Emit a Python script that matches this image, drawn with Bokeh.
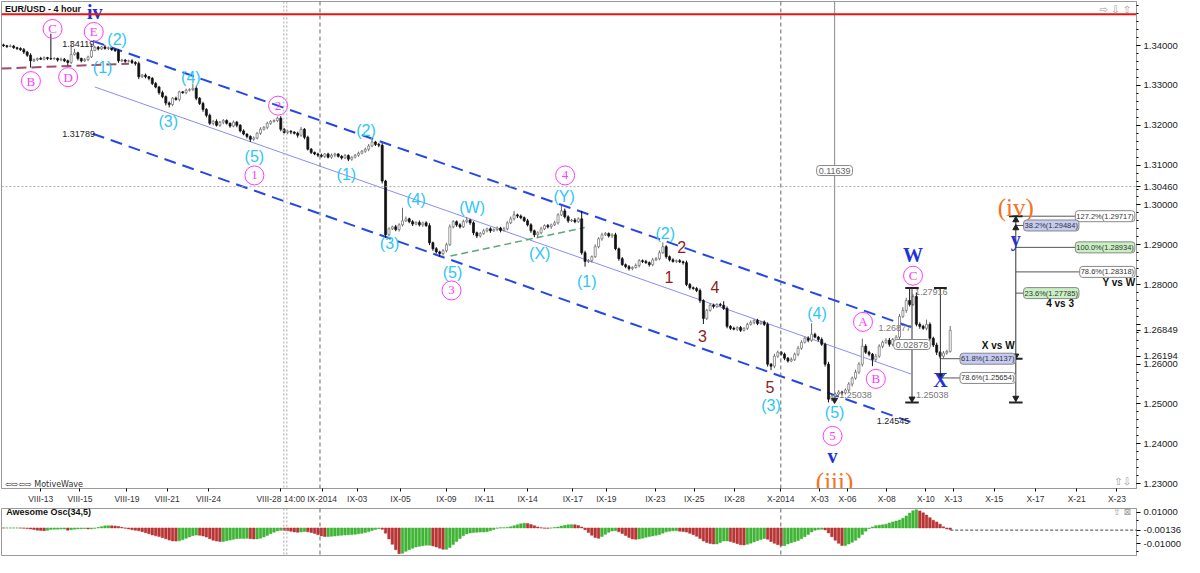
import numpy as np
import pandas as pd
from bokeh.plotting import figure
from bokeh.models import Range1d, FixedTicker, Span, Label, ColumnDataSource, PrintfTickFormatter
from bokeh.layouts import column
from bokeh.core.properties import value
from bokeh.embed import file_html
from bokeh.resources import INLINE

# ---------------- data ----------------
first_open = 1.3402
closes = [
 1.3400,1.3398,1.3399,1.3395,1.3393,1.3390,1.3384,1.3376,1.3362,1.3365,1.3368,1.3366,1.3370,1.3368,1.3367,1.3368,1.3364,1.3366,1.3362,1.3358,
 1.3378,1.3382,1.3368,1.3362,1.3365,1.3372,1.3388,1.3396,1.3392,1.3397,1.3393,1.3395,1.3390,1.3388,1.3362,1.3364,1.3361,1.3362,1.3358,1.3355,
 1.3322,1.3326,1.3322,1.3318,1.3305,1.3296,1.3282,1.3272,1.3256,1.3252,1.3268,1.3265,1.3284,1.3282,1.3288,1.3290,1.3293,1.3268,1.3255,1.3240,
 1.3225,1.3205,1.3210,1.3200,1.3208,1.3212,1.3205,1.3198,1.3208,1.3200,1.3186,1.3178,1.3172,1.3165,1.3168,1.3180,1.3190,1.3195,1.3205,1.3210,
 1.3212,1.3218,1.3190,1.3182,1.3185,1.3183,1.3180,1.3175,1.3190,1.3170,1.3140,1.3132,1.3128,1.3125,1.3122,1.3128,1.3120,1.3125,1.3128,1.3122,
 1.3118,1.3124,1.3115,1.3120,1.3125,1.3130,1.3135,1.3140,1.3148,1.3158,1.3152,1.3150,1.3060,1.2925,1.2940,1.2945,1.2938,1.2950,1.2960,1.2965,
 1.2958,1.2952,1.2956,1.2950,1.2955,1.2948,1.2905,1.2890,1.2882,1.2878,1.2885,1.2900,1.2945,1.2958,1.2950,1.2945,1.2958,1.2962,1.2955,1.2930,
 1.2922,1.2928,1.2935,1.2940,1.2935,1.2938,1.2942,1.2936,1.2940,1.2955,1.2965,1.2975,1.2972,1.2968,1.2960,1.2950,1.2935,1.2925,1.2930,1.2940,
 1.2948,1.2945,1.2950,1.2955,1.2975,1.2985,1.2970,1.2960,1.2962,1.2958,1.2965,1.2880,1.2858,1.2860,1.2870,1.2895,1.2915,1.2925,1.2928,1.2922,
 1.2925,1.2890,1.2865,1.2850,1.2845,1.2840,1.2843,1.2848,1.2860,1.2858,1.2855,1.2850,1.2862,1.2865,1.2880,1.2895,1.2870,1.2862,1.2858,1.2860,
 1.2857,1.2855,1.2800,1.2792,1.2790,1.2785,1.2760,1.2715,1.2735,1.2748,1.2745,1.2750,1.2748,1.2740,1.2695,1.2690,1.2688,1.2692,1.2685,1.2690,
 1.2700,1.2705,1.2710,1.2702,1.2706,1.2700,1.2600,1.2595,1.2620,1.2630,1.2625,1.2615,1.2608,1.2612,1.2625,1.2640,1.2655,1.2665,1.2660,1.2675,
 1.2668,1.2662,1.2650,1.2600,1.2512,1.2520,1.2525,1.2530,1.2528,1.2535,1.2550,1.2565,1.2580,1.2600,1.2645,1.2630,1.2625,1.2612,1.2620,1.2645,
 1.2655,1.2660,1.2650,1.2662,1.2668,1.2720,1.2735,1.2760,1.2750,1.2770,1.2700,1.2695,1.2690,1.2700,1.2665,1.2648,1.2630,1.2620,1.2628,1.2632,
 1.2685]
upper_wick_pips = [
 3,2,4,3,2,3,4,3,5,3,2,4,3,2,62,3,2,4,3,3,
 34,10,3,2,4,3,17,4,3,2,5,3,2,3,4,3,2,3,4,3,
 5,3,4,2,3,4,3,5,3,4,3,4,3,2,4,3,12,5,3,4,
 3,4,3,5,3,4,3,2,4,3,3,4,2,3,4,3,5,3,4,3,
 3,4,5,3,4,3,2,4,6,3,4,3,2,3,4,2,3,4,3,2,
 3,4,3,2,3,4,3,4,5,7,3,4,5,3,4,3,5,4,33,6,
 3,4,3,5,3,4,6,3,4,3,4,5,6,4,3,4,5,8,3,4,
 3,4,5,3,4,3,4,3,5,4,6,10,3,4,3,5,4,3,4,5,
 3,4,3,5,4,13,6,4,3,5,4,20,5,4,3,6,4,5,4,3,
 4,5,3,4,3,4,3,5,4,3,4,3,5,4,6,11,4,3,4,3,
 4,3,5,4,3,4,5,3,4,5,4,3,4,10,5,3,4,3,4,3,
 4,5,3,4,3,4,5,3,6,4,3,4,3,5,4,6,5,4,5,28,
 4,3,5,4,6,3,4,5,3,4,5,4,6,5,19,5,4,3,6,5,
 4,5,6,4,5,6,8,7,32,6,10,5,4,12,5,4,6,3,5,4,
 11]
lower_wick_pips = [
 3,4,2,3,4,3,5,4,17,3,4,2,3,4,3,2,4,3,3,8,
 4,3,5,4,3,4,3,2,4,3,3,4,3,4,5,3,4,3,4,5,
 6,3,4,5,4,3,5,4,6,7,4,3,5,3,4,3,4,5,4,6,
 5,4,5,3,4,5,3,4,3,5,4,3,5,7,4,3,4,3,5,4,
 3,4,5,3,4,5,3,6,4,5,3,4,3,5,3,4,3,4,5,3,
 4,3,5,4,3,4,3,4,5,3,4,5,6,7,4,3,4,5,4,3,
 4,5,3,4,5,3,6,5,4,8,5,4,3,4,5,4,3,4,5,6,
 5,4,3,4,5,3,4,5,3,4,3,4,5,4,3,4,5,6,7,4,
 3,4,5,3,4,3,4,5,3,4,3,5,13,4,5,3,4,5,3,4,
 5,4,5,3,4,5,4,3,5,4,3,5,4,3,4,3,5,4,3,4,
 3,5,4,5,3,4,6,14,4,3,5,4,3,4,5,4,3,5,4,3,
 4,3,5,4,3,4,6,10,5,4,3,5,4,3,4,5,4,3,5,4,
 3,5,4,6,8,5,4,3,5,4,5,6,4,5,6,4,5,17,6,4,
 5,4,6,5,4,5,4,6,5,4,5,6,4,5,6,5,7,6,5,4,
 3]

tick_labels = ["VIII-13","VIII-15","VIII-19","VIII-21","VIII-24","VIII-28 14:00","IX-2014","IX-03","IX-05",
               "IX-09","IX-11","IX-14","IX-17","IX-19","IX-23","IX-25","IX-28","X-2014","X-03","X-06",
               "X-08","X-10","X-13","X-15","X-17","X-21","X-23"]
tick_bars = [11.0,22.6,36.5,48.4,60.6,82.0,94.2,104.6,117.4,131.0,142.3,155.0,168.4,178.3,192.8,204.3,
             216.2,229.9,241.4,249.6,261.2,272.8,280.9,293.0,305.2,317.4,329.3]
price_ticks = [1.23,1.24,1.25,1.26,1.27,1.28,1.29,1.30,1.31,1.32,1.33,1.34]
marker_prices = [1.30460, 1.26849, 1.26194]   # crosshair / last / bid markers on price scale
ao_marker = -0.00136

# wave labels
cyan_text = ["(2)","(1)","(4)","(3)","(5)","(2)","(1)","(3)","(4)","(W)","(5)","(X)","(Y)","(1)","(2)","(4)","(3)","(5)"]
cyan_x = [33.6,29.3,55.4,48.7,74.2,107.2,101.4,114.2,122.0,138.6,132.8,158.6,165.8,172.5,195.7,240.6,227.0,245.8]
cyan_y = [1.34148,1.33457,1.33210,1.32099,1.31210,1.31877,1.30765,1.29037,1.30148,1.29926,1.28296,1.28790,1.30222,1.28074,1.29284,1.27284,1.24963,1.24790]
mag_text = ["C","B","D","E","2","1","3","4","5","A","B","C"]
mag_x = [14.5,8.1,19.1,26.7,81.2,74.2,132.5,166.1,245.2,254.2,258.0,269.0]
mag_y = [1.34420,1.33111,1.33210,1.34346,1.32494,1.30741,1.27852,1.30741,1.24198,1.27062,1.25630,1.28222]
maroon_text = ["2","1","4","3","5"]
maroon_x = [200.6,196.8,210.4,206.7,226.7]
maroon_y = [1.28938,1.28198,1.27951,1.26716,1.25432]
blue_text = ["iv","W","X","y","v"]
blue_x = [27.0,269.0,277.1,299.4,245.2]
blue_y = [1.34850,1.28741,1.25605,1.29136,1.23704]
orange_text = ["(iv)","(iii)"]
orange_x = [299.4,245.8]
orange_y = [1.29926,1.23062]

# channel & trend lines
upper_x, upper_y = [26.4, 269.0], [1.34119, 1.26914]
lower_x, lower_y = [26.4, 268.4], [1.31789, 1.24545]
mid_x, mid_y = [27.0, 268.4], [1.32963, 1.25753]
maroon_line_x, maroon_line_y = [-0.6, 37.1], [1.33425, 1.33548]
green_line_x, green_line_y = [132.2, 171.9], [1.28716, 1.29432]
red_level = 1.3479
crosshair_price = 1.30460

# fib levels
fib_text = ["127.2%(1.29717)","38.2%(1.29484)","100.0%(1.28934)","78.6%(1.28318)","23.6%(1.27785)","61.8%(1.26137)","78.6%(1.25654)"]
fib_level = [1.29717,1.29484,1.28934,1.28318,1.27785,1.26137,1.25654]
fib_box_x = [317.0,301.7,317.0,318.3,301.7,282.9,282.9]
fib_from_x = [299.4,299.4,299.4,299.4,299.4,277.1,277.1]
fib_bg = ["white","#c5cbf2","#c9f0c3","white","#c9f0c3","#c5cbf2","white"]

# ---------------- derived OHLC ----------------
n = len(closes)
idx = np.arange(n)
opens = [first_open] + closes[:-1]
highs = [max(o, c) + u / 10000 for o, c, u in zip(opens, closes, upper_wick_pips)]
lows = [min(o, c) - d / 10000 for o, c, d in zip(opens, closes, lower_wick_pips)]
up = [c >= o for o, c in zip(opens, closes)]
src = ColumnDataSource(dict(
    x=idx, top=[max(o, c) for o, c in zip(opens, closes)], bottom=[min(o, c) for o, c in zip(opens, closes)],
    hi=highs, lo=lows,
    fill=["#ffffff" if u else "#111111" for u in up],
    edge=["#6a6a6a" if u else "#111111" for u in up]))

mid = (pd.Series(highs) + pd.Series(lows)) / 2
ao = (mid.rolling(5, min_periods=1).mean() - mid.rolling(34, min_periods=1).mean()).values
ao_col = ["#3fb435" if (i > 0 and ao[i] >= ao[i - 1]) else "#b93434" for i in range(n)]

SANS = value("Liberation Sans")
SERIF = value("Liberation Serif")
CYAN = "#2ec6f6"
MAG = "#ff3cff"
MAROON = "#8e1c1c"
BLUE = "#1c34d8"
ORANGE = "#f87020"
CHAN = "#2447e6"

XR = Range1d(-0.6, 335.1)
p = figure(width=1184, height=506, x_range=XR, y_range=Range1d(1.22877, 1.3511),
           output_backend="svg", toolbar_location=None, y_axis_location="right",
           min_border_left=1, min_border_right=46, min_border_top=1, min_border_bottom=16)
p.xgrid.visible = False
p.ygrid.visible = False
p.outline_line_color = "#9a9a9a"
p.background_fill_color = "white"

p.xaxis.ticker = FixedTicker(ticks=tick_bars)
p.xaxis.major_label_overrides = {t: l for t, l in zip(tick_bars, tick_labels)}
p.xaxis.major_label_text_font_size = "8.5px"
p.xaxis.major_label_text_font = "Liberation Sans"
p.xaxis.major_label_text_color = "#333"
p.xaxis.major_label_standoff = 2
p.xaxis.major_tick_out = 3
p.xaxis.major_tick_in = 0
p.xaxis.minor_tick_line_color = None
p.xaxis.axis_line_color = "#9a9a9a"

y_ticks = price_ticks + marker_prices
p.yaxis.ticker = FixedTicker(ticks=y_ticks, minor_ticks=list(np.round(np.arange(1.228, 1.352, 0.002), 3)))
p.yaxis.formatter = PrintfTickFormatter(format="%.5f")
p.yaxis.major_label_overrides = {1.27: ""}
p.yaxis.major_label_text_font_size = "9.5px"
p.yaxis.major_label_text_font = "Liberation Sans"
p.yaxis.major_label_text_color = "#222"
p.yaxis.major_tick_out = 4
p.yaxis.major_tick_in = 0
p.yaxis.minor_tick_out = 2
p.yaxis.minor_tick_in = 0
p.yaxis.major_label_standoff = 3
p.yaxis.axis_line_color = "#9a9a9a"

# vertical guide lines
for xv in [93.6, 229.9]:
    p.add_layout(Span(location=xv, dimension="height", line_color="#666", line_dash="4 3", line_width=1))
for xv in [82.9, 83.8]:
    p.add_layout(Span(location=xv, dimension="height", line_color="#aaa", line_dash="2 2", line_width=1))
p.add_layout(Span(location=crosshair_price, dimension="width", line_color="#aaa", line_dash="2 2", line_width=1))
p.add_layout(Span(location=red_level, dimension="width", line_color="#ee1111", line_width=2))

# measurement gray line
p.segment(x0=[245.8], y0=[1.3511], x1=[245.8], y1=[1.2504], line_color="#999", line_width=1.2)

# channel
p.line(upper_x, upper_y, line_color=CHAN, line_width=2, line_dash="12 7")
p.line(lower_x, lower_y, line_color=CHAN, line_width=2, line_dash="12 7")
p.line(mid_x, mid_y, line_color="#8c8cf4", line_width=1)
p.line(maroon_line_x, maroon_line_y, line_color="#a24c6c", line_width=2, line_dash="10 5")
p.line(green_line_x, green_line_y, line_color="#5aa874", line_width=1.5, line_dash="7 4")

# candles
p.segment(x0="x", y0="lo", x1="x", y1="hi", source=src, line_color="edge", line_width=1)
p.vbar(x="x", top="top", bottom="bottom", width=0.6, source=src, fill_color="fill", line_color="edge", line_width=0.7)

# fib lines & measurement tools
for lvl, x0, bx in zip(fib_level, fib_from_x, fib_box_x):
    p.segment(x0=[x0], y0=[lvl], x1=[bx], y1=[lvl], line_color="#555", line_width=1)
p.segment(x0=[299.4, 277.1, 268.7], y0=[1.29717, 1.27916, 1.27916], x1=[299.4, 277.1, 268.7], y1=[1.25038, 1.25654, 1.25038],
          line_color="#333", line_width=1)
p.segment(x0=[297.4, 297.4, 297.4, 275.2, 266.7, 266.7], y0=[1.29717, 1.25038, 1.26137, 1.27916, 1.27916, 1.25038],
          x1=[301.4, 301.4, 301.4, 279.0, 270.7, 270.7], y1=[1.29717, 1.25038, 1.26137, 1.27916, 1.27916, 1.25038],
          line_color="#222", line_width=2)
p.scatter(x=[299.4, 299.4], y=[1.2962, 1.2942], marker="triangle", size=6, color="#222")
p.scatter(x=[299.4, 299.4, 277.1, 268.7, 245.8], y=[1.2621, 1.2515, 1.2572, 1.2513, 1.2510], marker="inverted_triangle", size=6, color="#222")

# wave labels
p.text(x=cyan_x, y=cyan_y, text=cyan_text, text_color=CYAN, text_font=SANS, text_font_size="16px",
       text_align="center", text_baseline="middle")
p.scatter(x=mag_x, y=mag_y, marker="circle", size=19, fill_color="white", fill_alpha=0.0, line_color=MAG, line_width=1)
p.text(x=mag_x, y=mag_y, text=mag_text, text_color=MAG, text_font=SERIF, text_font_size="13px",
       text_align="center", text_baseline="middle")
p.text(x=maroon_x, y=maroon_y, text=maroon_text, text_color=MAROON, text_font=SANS, text_font_size="16px",
       text_align="center", text_baseline="middle")
p.text(x=blue_x, y=blue_y, text=blue_text, text_color=BLUE, text_font=SERIF, text_font_size="20px",
       text_font_style="bold", text_align="center", text_baseline="middle")
p.text(x=orange_x, y=orange_y, text=orange_text, text_color=ORANGE, text_font=SERIF, text_font_size="25px",
       text_align="center", text_baseline="middle")

# small numeric annotations
num_text = ["1.34119", "1.31789", "1.24545"]
num_x = [17.4, 17.4, 258.3]
num_y = [1.34049, 1.31778, 1.24568]
p.text(x=num_x, y=num_y, text=num_text, text_color="#222", text_font=SANS, text_font_size="9px", text_baseline="middle")
gray_text = ["1.25038", "1.27916", "1.25038", "1.26877"]
gray_x = [247.2, 269.6, 269.9, 258.8]
gray_y = [1.25235, 1.27802, 1.25235, 1.26914]
p.text(x=gray_x, y=gray_y, text=gray_text, text_color="#777", text_font=SANS, text_font_size="9px", text_baseline="middle")

def box(x, y, t, bg="white", border="#888", color="#333", align="left", size="9px", plot=p, pad=2):
    plot.add_layout(Label(x=x, y=y, text=t, text_font="Liberation Sans", text_font_size=size, text_color=color,
                          text_align=align, text_baseline="middle", background_fill_color=bg,
                          border_line_color=border, border_line_width=1, padding=pad, border_radius=3))

for t, lvl, bx, bg in zip(fib_text, fib_level, fib_box_x, fib_bg):
    box(bx, lvl, t, bg=bg, size="7.5px", pad=1)
box(268.7, 1.26494, "0.02878", align="center", color="#666")
box(245.8, 1.30864, "0.11639", align="center", color="#666")

for t, x, y in [("Y vs W", 329.9, 1.28049), ("4 vs 3", 312.5, 1.27531), ("X vs W", 294.2, 1.26469)]:
    p.add_layout(Label(x=x, y=y, text=t, text_font="Liberation Sans", text_font_size="10px", text_font_style="bold",
                       text_color="#111", text_align="center", text_baseline="middle"))

p.add_layout(Label(x=0.4, y=1.3493, text="EUR/USD - 4 hour", text_font="Liberation Sans", text_font_size="9px",
                   text_font_style="bold", text_color="#111", text_baseline="middle"))
p.add_layout(Label(x=0.4, y=1.2298, text="⇦⇨⇦⇨ MotiveWave", text_font="DejaVu Sans", text_font_size="8px",
                   text_color="#333", text_baseline="middle"))
p.add_layout(Label(x=333.5, y=1.3492, text="⇨ ⇩ ⇧", text_font="DejaVu Sans", text_font_size="10px",
                   text_color="#999", text_align="right", text_baseline="middle"))
p.add_layout(Label(x=333.5, y=1.2305, text="⇧⇩", text_font="DejaVu Sans", text_font_size="10px",
                   text_color="#999", text_align="right", text_baseline="middle"))

# ---------------- Awesome oscillator ----------------
p2 = figure(width=1184, height=51, x_range=XR, y_range=Range1d(-0.0174, 0.0123),
            output_backend="svg", toolbar_location=None, y_axis_location="right",
            min_border_left=1, min_border_right=46, min_border_top=2, min_border_bottom=2)
p2.xgrid.visible = False
p2.ygrid.visible = False
p2.xaxis.visible = False
p2.outline_line_color = "#9a9a9a"
p2.yaxis.ticker = FixedTicker(ticks=[-0.01, ao_marker, 0.01], minor_ticks=[-0.015, -0.005, 0.005])
p2.yaxis.formatter = PrintfTickFormatter(format="%.5f")
p2.yaxis.major_label_text_font_size = "9.5px"
p2.yaxis.major_label_text_font = "Liberation Sans"
p2.yaxis.major_label_text_color = "#222"
p2.yaxis.major_tick_out = 4
p2.yaxis.major_tick_in = 0
p2.yaxis.minor_tick_out = 2
p2.yaxis.minor_tick_in = 0
p2.yaxis.major_label_standoff = 3
p2.yaxis.axis_line_color = "#9a9a9a"
for xv in [93.6, 229.9]:
    p2.add_layout(Span(location=xv, dimension="height", line_color="#666", line_dash="4 3", line_width=1))
for xv in [82.9, 83.8]:
    p2.add_layout(Span(location=xv, dimension="height", line_color="#aaa", line_dash="2 2", line_width=1))
p2.vbar(x=idx, top=ao, bottom=0, width=0.75, fill_color=ao_col, line_color=ao_col, line_width=0.5)
p2.segment(x0=[n - 1], y0=[ao_marker], x1=[335.1], y1=[ao_marker], line_color="#444", line_dash="3 2", line_width=1)
p2.add_layout(Label(x=0.8, y=0.0098, text="Awesome Osc(34,5)", text_font="Liberation Sans", text_font_size="9px",
                    text_font_style="bold", text_color="#111", text_baseline="middle"))
p2.add_layout(Label(x=333.5, y=0.0098, text="⇧ ⊠", text_font="DejaVu Sans", text_font_size="9px",
                    text_color="#999", text_align="right", text_baseline="middle"))

layout = column(p, p2, spacing=0)
open("out.html", "w").write(file_html(layout, INLINE, title="EUR/USD - 4 hour"))
